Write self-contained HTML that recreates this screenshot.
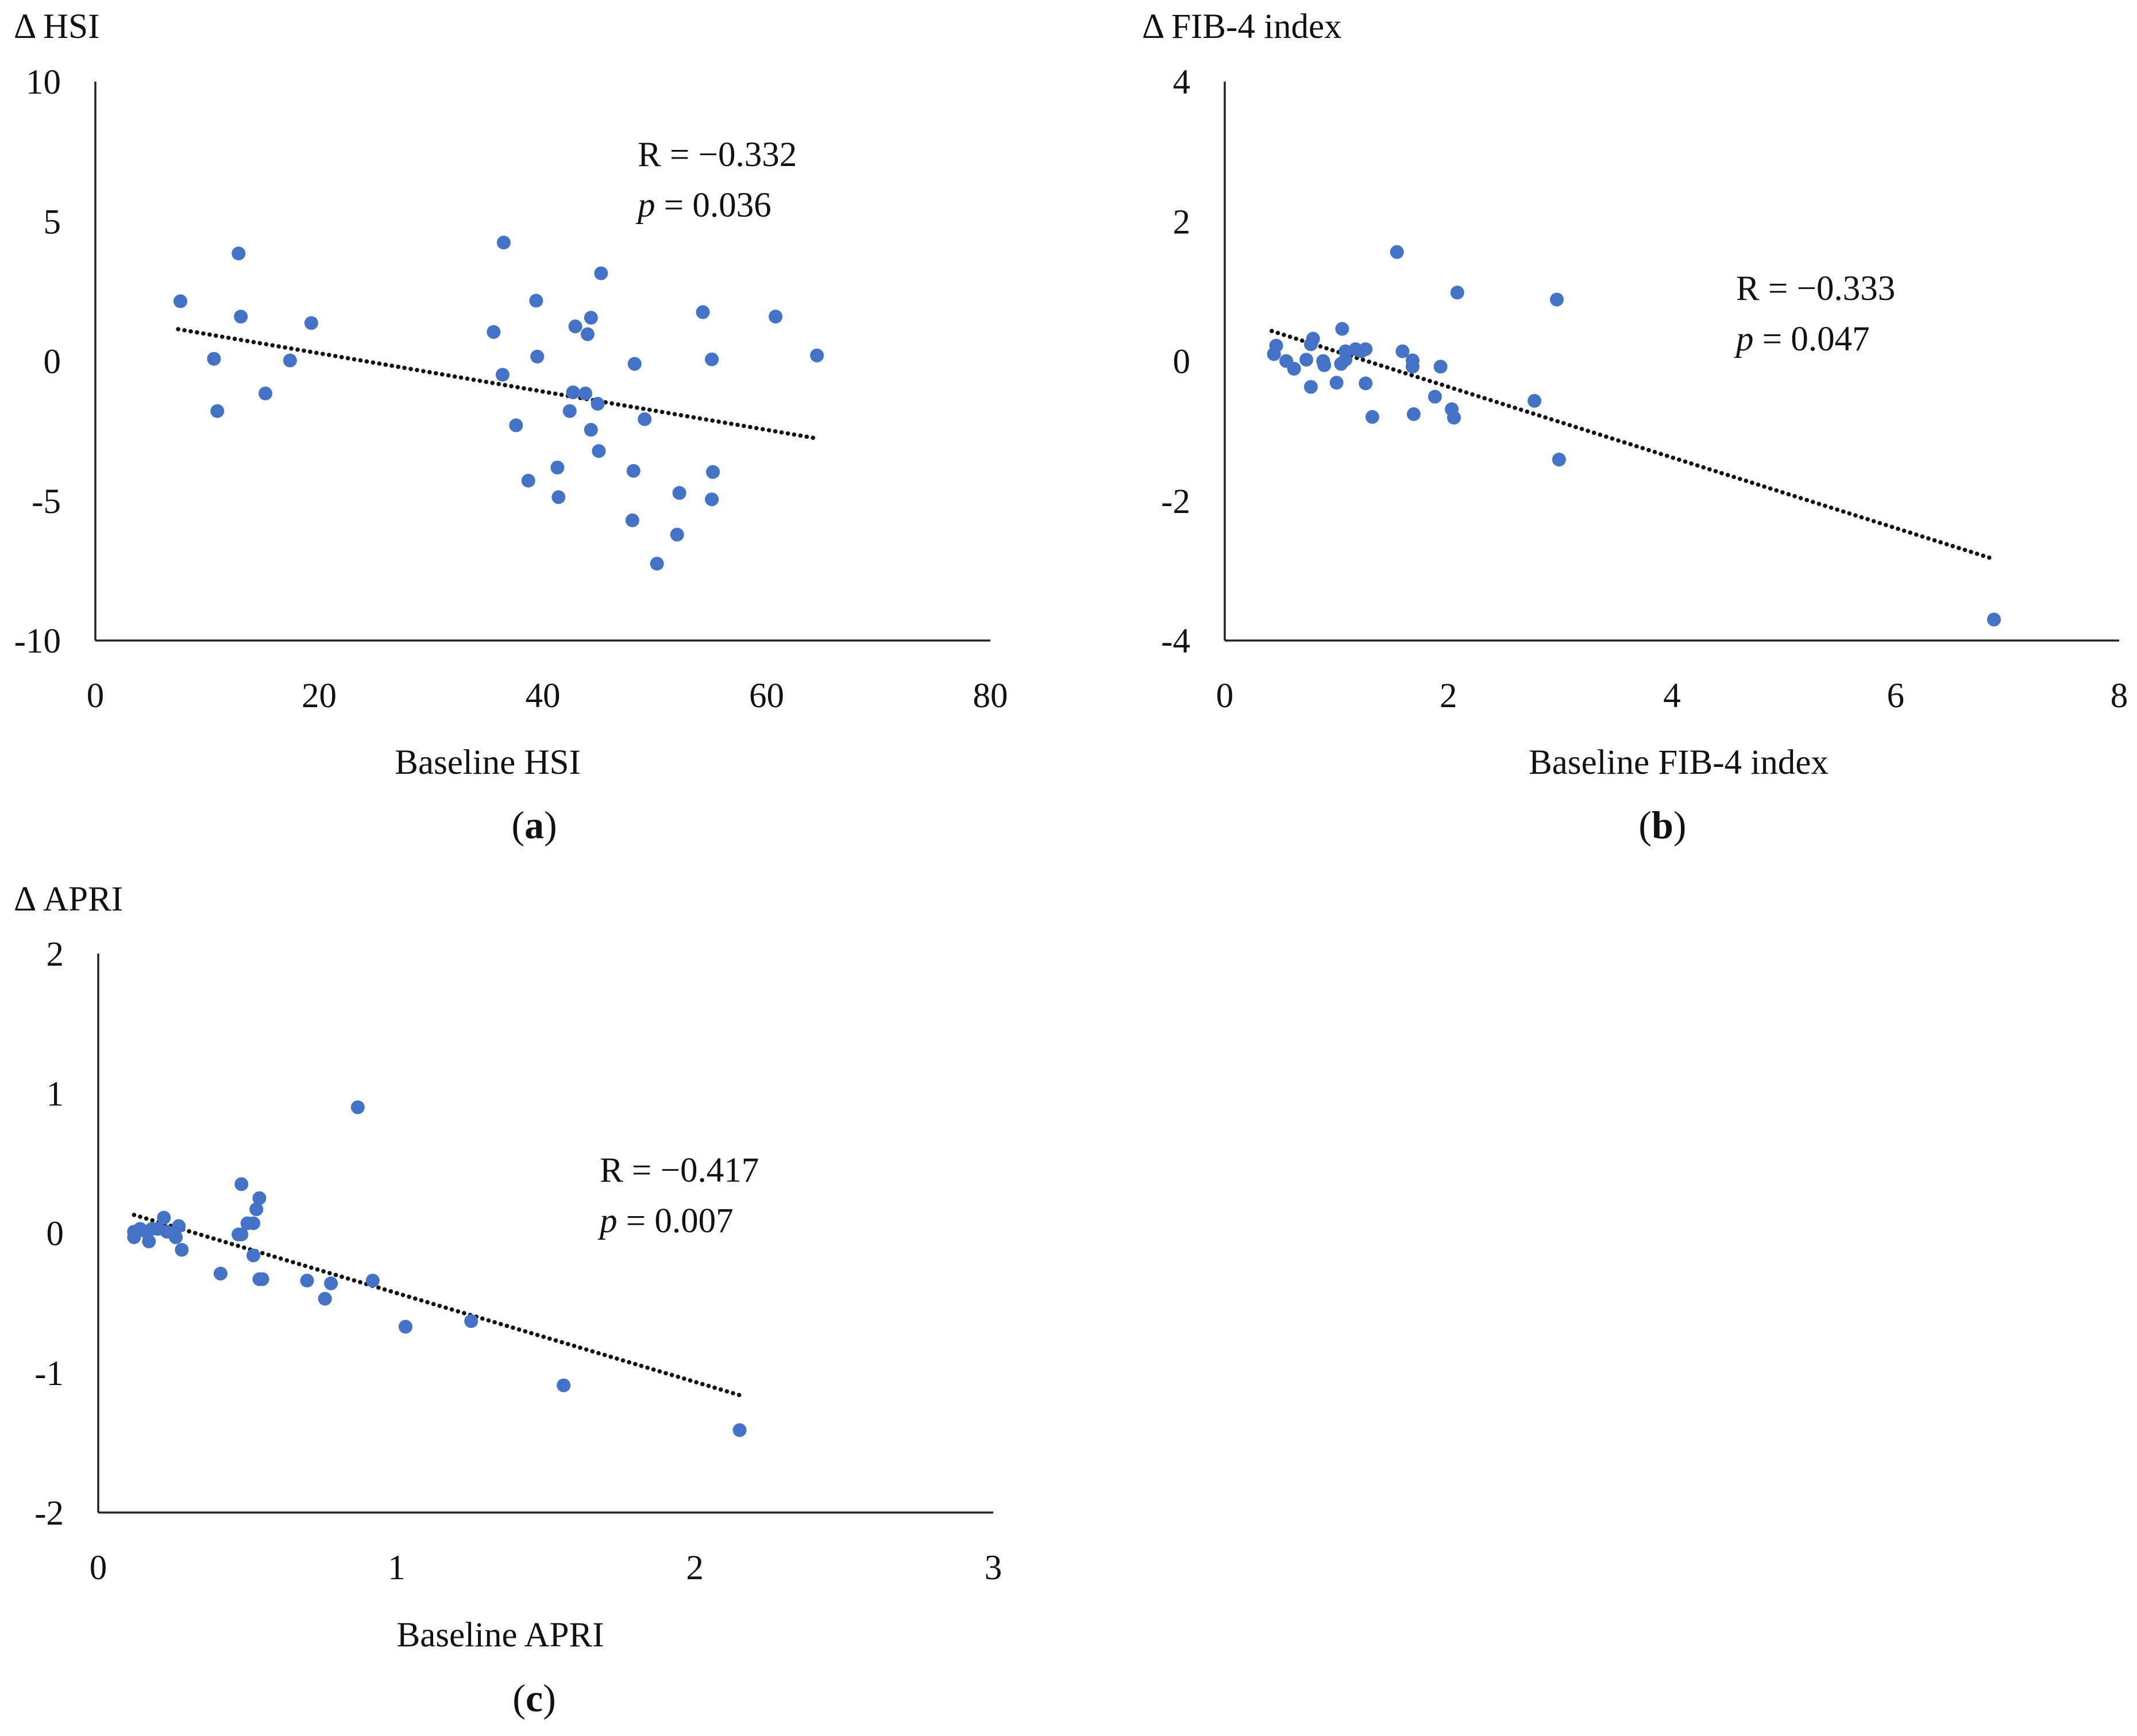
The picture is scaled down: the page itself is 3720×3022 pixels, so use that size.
<!DOCTYPE html>
<html><head><meta charset="utf-8">
<style>
html,body{margin:0;padding:0;background:#fff;}
svg{display:block;font-family:"Liberation Serif",serif;}
</style></head>
<body>
<svg id="fig" width="3720" height="3022" viewBox="0 0 3720 3022" xmlns="http://www.w3.org/2000/svg"></svg>
<script>
// Panel (a) data
const hsiX = [7.6,12.8,13.0,10.6,10.9,15.2,17.4,19.3,35.6,36.5,36.4,37.6,38.7,39.4,39.5,41.3,41.4,42.4,42.7,42.9,43.8,44.0,44.3,44.3,44.9,45.0,45.2,48.1,48.0,48.2,49.1,50.2,52.0,52.2,54.3,55.1,55.2,55.1,60.8,64.5];
const hsiY = [2.14,3.85,1.59,0.08,-1.79,-1.16,0.02,1.36,1.04,4.24,-0.49,-2.30,-4.28,2.16,0.16,-3.81,-4.87,-1.79,-1.12,1.24,-1.16,0.96,1.55,-2.46,-1.53,-3.22,3.14,-3.93,-5.70,-0.10,-2.08,-7.25,-6.21,-4.72,1.75,0.06,-3.97,-4.95,1.59,0.20];
const hsiTrend = [[7.4,1.14],[64.5,-2.77]];
const hsiXTicks = [0,20,40,60,80];
const hsiYTicks = [10,5,0,-5,-10];
// Panel (b) data
const fibX = [0.44,0.46,0.55,0.62,0.73,0.77,0.77,0.79,0.88,0.89,1.00,1.04,1.05,1.08,1.08,1.17,1.22,1.26,1.26,1.32,1.54,1.59,1.68,1.68,1.69,1.88,1.93,2.03,2.05,2.08,2.77,2.97,2.99,6.88];
const fibY = [0.10,0.22,0.00,-0.11,0.02,-0.37,0.24,0.32,0.00,-0.06,-0.31,-0.04,0.46,0.14,0.02,0.17,0.14,0.17,-0.32,-0.80,1.56,0.14,0.01,-0.08,-0.76,-0.51,-0.08,-0.69,-0.81,0.98,-0.57,0.88,-1.41,-3.70];
const fibTrend = [[0.42,0.43],[6.87,-2.83]];
const fibXTicks = [0,2,4,6,8];
const fibYTicks = [4,2,0,-2,-4];
// Panel (c) data
const apriX = [0.12,0.12,0.14,0.16,0.17,0.18,0.20,0.22,0.23,0.25,0.26,0.27,0.28,0.41,0.47,0.48,0.48,0.50,0.52,0.52,0.53,0.54,0.54,0.55,0.70,0.76,0.78,0.87,0.92,1.03,1.25,1.56,2.15];
const apriY = [0.01,-0.03,0.03,0.01,-0.06,0.03,0.03,0.11,0.01,0.00,-0.03,0.05,-0.12,-0.29,-0.01,-0.01,0.35,0.07,-0.16,0.07,0.17,-0.33,0.25,-0.33,-0.34,-0.47,-0.36,0.90,-0.34,-0.67,-0.63,-1.09,-1.41];
const apriTrend = [[0.12,0.13],[2.15,-1.16]];
const apriXTicks = [0,1,2,3];
const apriYTicks = [2,1,0,-1,-2];

const NS = "http://www.w3.org/2000/svg";
const svg = document.getElementById('fig');
const FS = 61;
function mk(tag, attrs, parent){
  const e = document.createElementNS(NS, tag);
  for (const k in attrs) e.setAttribute(k, attrs[k]);
  (parent||svg).appendChild(e);
  return e;
}
function txt(s, x, y, anchor, size, parent, name){
  const t = mk('text', {x:x, y:y, 'text-anchor':anchor, 'font-size':size, fill:'#111'}, parent);
  
  
  t.textContent = s;
  return t;
}

function panel(cfg){
  const g = mk('g', {});
  
  
  const sx = v => cfg.x0 + (v - cfg.xmin) / (cfg.xmax - cfg.xmin) * (cfg.x1 - cfg.x0);
  const sy = v => cfg.yb + (v - cfg.ymin) / (cfg.ymax - cfg.ymin) * (cfg.yt - cfg.yb);
  const ya = mk('line', {x1:cfg.x0, y1:cfg.yt, x2:cfg.x0, y2:cfg.yb, stroke:'#222', 'stroke-width':3.5}, g);
  
  
  const xa = mk('line', {x1:cfg.x0, y1:cfg.yb, x2:cfg.x1, y2:cfg.yb, stroke:'#222', 'stroke-width':3.5}, g);
  
  
  cfg.yTicks.forEach(v => {
    txt(String(v), cfg.x0 - 60, sy(v) + 21, 'end', FS, g, 'y-tick-label');
  });
  cfg.xTicks.forEach(v => {
    txt(String(v), sx(v), cfg.xTickY, 'middle', FS, g, 'x-tick-label');
  });
  const tr = mk('line', {x1:sx(cfg.trend[0][0]), y1:sy(cfg.trend[0][1]), x2:sx(cfg.trend[1][0]), y2:sy(cfg.trend[1][1]), stroke:'#111', 'stroke-width':7.5, 'stroke-dasharray':'0.1 11', 'stroke-linecap':'round'}, g);
  
  
  cfg.xs.forEach((xv, i) => {
    const c = mk('circle', {cx:sx(xv), cy:sy(cfg.ys[i]), r:12, fill:'#4472C4'}, g);
    
    
  });
  txt(cfg.title, cfg.titleX, cfg.titleY, 'start', FS, g, 'y-axis-title');
  txt(cfg.xlabel, cfg.xlabelX, cfg.xlabelY, 'middle', FS, g, 'x-axis-title');
  const L = mk('text', {x:cfg.letterX, y:cfg.letterY, 'text-anchor':'middle', 'font-size':68, fill:'#111'}, g);
  
  
  const l1 = mk('tspan', {}, L); l1.textContent = '(';
  const l2 = mk('tspan', {'font-weight':'bold'}, L); l2.textContent = cfg.letter;
  const l3 = mk('tspan', {}, L); l3.textContent = ')';
  txt(cfg.r, cfg.rX, cfg.rY, 'start', FS, g, 'r-value');
  const p = mk('text', {x:cfg.rX, y:cfg.rY + 88, 'font-size':FS, fill:'#111'}, g);
  
  
  const pi = mk('tspan', {'font-style':'italic'}, p);
  pi.textContent = 'p';
  const pr = mk('tspan', {}, p);
  pr.textContent = ' = ' + cfg.p;
}

panel({id:'hsi', x0:166, x1:1724, yt:142, yb:1115, xmin:0, xmax:80, ymin:-10, ymax:10,
  xs:hsiX, ys:hsiY, trend:hsiTrend, xTicks:hsiXTicks, yTicks:hsiYTicks, xTickY:1231,
  title:'Δ HSI', titleX:24, titleY:66, xlabel:'Baseline HSI', xlabelX:849, xlabelY:1347,
  letter:'a', letterX:930, letterY:1459, r:'R = −0.332', p:'0.036', rX:1110, rY:289});
panel({id:'fib4', x0:2132, x1:3689, yt:142, yb:1115, xmin:0, xmax:8, ymin:-4, ymax:4,
  xs:fibX, ys:fibY, trend:fibTrend, xTicks:fibXTicks, yTicks:fibYTicks, xTickY:1231,
  title:'Δ FIB-4 index', titleX:1988, titleY:66, xlabel:'Baseline FIB-4 index', xlabelX:2922, xlabelY:1347,
  letter:'b', letterX:2894, letterY:1459, r:'R = −0.333', p:'0.047', rX:3022, rY:522});
panel({id:'apri', x0:171, x1:1729, yt:1660, yb:2633, xmin:0, xmax:3, ymin:-2, ymax:2,
  xs:apriX, ys:apriY, trend:apriTrend, xTicks:apriXTicks, yTicks:apriYTicks, xTickY:2749,
  title:'Δ APRI', titleX:24, titleY:1585, xlabel:'Baseline APRI', xlabelX:871, xlabelY:2866,
  letter:'c', letterX:930, letterY:2979, r:'R = −0.417', p:'0.007', rX:1044, rY:2057});
</script>
</body></html>
